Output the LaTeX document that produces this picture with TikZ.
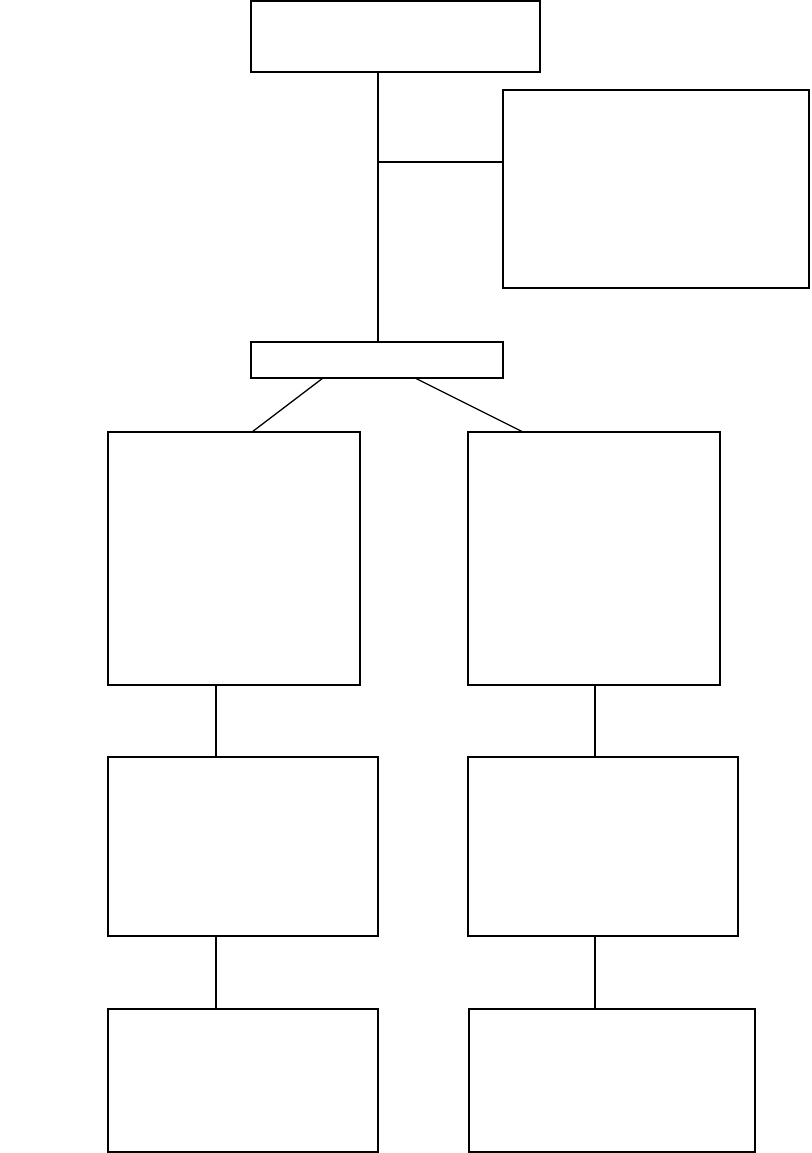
\documentclass[tikz,border=0pt]{standalone}
\usetikzlibrary{calc}
\begin{document}
\begin{tikzpicture}[x=1pt,y=-1pt,
  blk/.style={draw=black, line width=1.8pt, fill=white, rectangle, anchor=north west, inner sep=0pt, outer sep=0pt},
  conn/.style={draw=black, line width=1.8pt},
  thin/.style={draw=black, line width=1.3pt}]
\useasboundingbox[fill=white] (0,0) rectangle (811,1153);
\node[blk, minimum width=289pt, minimum height=71pt] (top) at (251,1) {};
\node[blk, minimum width=306pt, minimum height=198pt] (rb) at (503,90) {};
\node[blk, minimum width=252pt, minimum height=36pt] (mid) at (251,342) {};
\node[blk, minimum width=252pt, minimum height=253pt] (lb1) at (108,432) {};
\node[blk, minimum width=252pt, minimum height=253pt] (rb1) at (468,432) {};
\node[blk, minimum width=270pt, minimum height=179pt] (lb2) at (108,757) {};
\node[blk, minimum width=270pt, minimum height=179pt] (rb2) at (468,757) {};
\node[blk, minimum width=270pt, minimum height=143pt] (lb3) at (108,1009) {};
\node[blk, minimum width=286pt, minimum height=143pt] (rb3) at (469,1009) {};
% top to mid
\coordinate (tm) at ($(top.south west)+(127,0)$);
\draw[conn] (tm) -- (tm |- mid.north);
\coordinate (j) at (tm |- 0,162);
\draw[conn] (j) -- (j -| rb.west);
% mid to level 1
\draw[thin] ($(mid.south west)+(72,0)$) -- ($(lb1.north west)+(144,0)$);
\draw[thin] ($(mid.south west)+(164,0)$) -- ($(rb1.north west)+(55,0)$);
% columns
\coordinate (lc1) at ($(lb1.south west)+(108,0)$);
\draw[conn] (lc1) -- (lc1 |- lb2.north);
\coordinate (lc2) at ($(lb2.south west)+(108,0)$);
\draw[conn] (lc2) -- (lc2 |- lb3.north);
\coordinate (rc1) at ($(rb1.south west)+(127,0)$);
\draw[conn] (rc1) -- (rc1 |- rb2.north);
\coordinate (rc2) at (rc1 |- rb2.south);
\draw[conn] (rc2) -- (rc2 |- rb3.north);
\end{tikzpicture}
\end{document}
